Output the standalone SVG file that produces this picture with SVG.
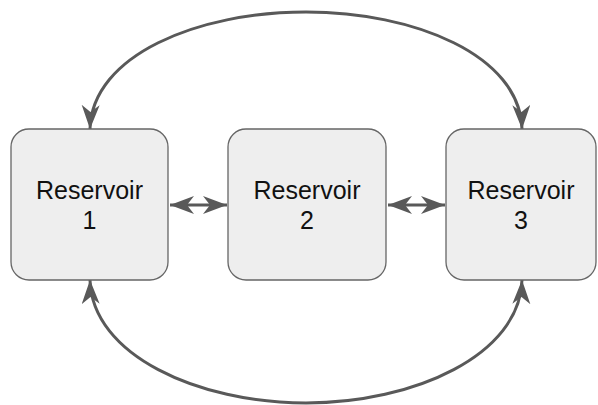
<svg xmlns="http://www.w3.org/2000/svg" width="598" height="405" viewBox="0 0 598 405">
<style>
.box{fill:#eeeeee;stroke:#666666;stroke-width:1.3}
.lbl{font-family:"Liberation Sans",Arial,sans-serif;font-size:25px;fill:#111111;text-anchor:middle}
.edge{fill:none;stroke:#595959;stroke-width:3}
</style>
<defs>
<marker id="ah" markerUnits="userSpaceOnUse" markerWidth="26" markerHeight="20" viewBox="0 0 26 20" refX="24" refY="9" orient="auto-start-reverse">
<path d="M0,0 L24,9 L0,18 L7,9 Z" fill="#595959"/>
</marker>
</defs>
<g id="connectors">
<path class="edge" d="M90,129 C92,55 198,12 306,12 C414,12 520,55 522,129" marker-start="url(#ah)" marker-end="url(#ah)"/>
<path class="edge" d="M90,280 C92,355 198,403 306,403 C414,403 520,355 522,280" marker-start="url(#ah)" marker-end="url(#ah)"/>
<path class="edge" d="M170,205 L227,205" marker-start="url(#ah)" marker-end="url(#ah)"/>
<path class="edge" d="M388,205 L445,205" marker-start="url(#ah)" marker-end="url(#ah)"/>
</g>
<g id="reservoir1">
<rect class="box" x="11" y="129" width="157" height="151" rx="18"/>
<text class="lbl" x="89.5" y="199">Reservoir</text>
<text class="lbl" x="89.5" y="229">1</text>
</g>
<g id="reservoir2">
<rect class="box" x="228" y="129" width="158" height="151" rx="18"/>
<text class="lbl" x="307" y="199">Reservoir</text>
<text class="lbl" x="307" y="229">2</text>
</g>
<g id="reservoir3">
<rect class="box" x="446" y="129" width="150" height="151" rx="18"/>
<text class="lbl" x="521" y="199">Reservoir</text>
<text class="lbl" x="521" y="229">3</text>
</g>
</svg>
